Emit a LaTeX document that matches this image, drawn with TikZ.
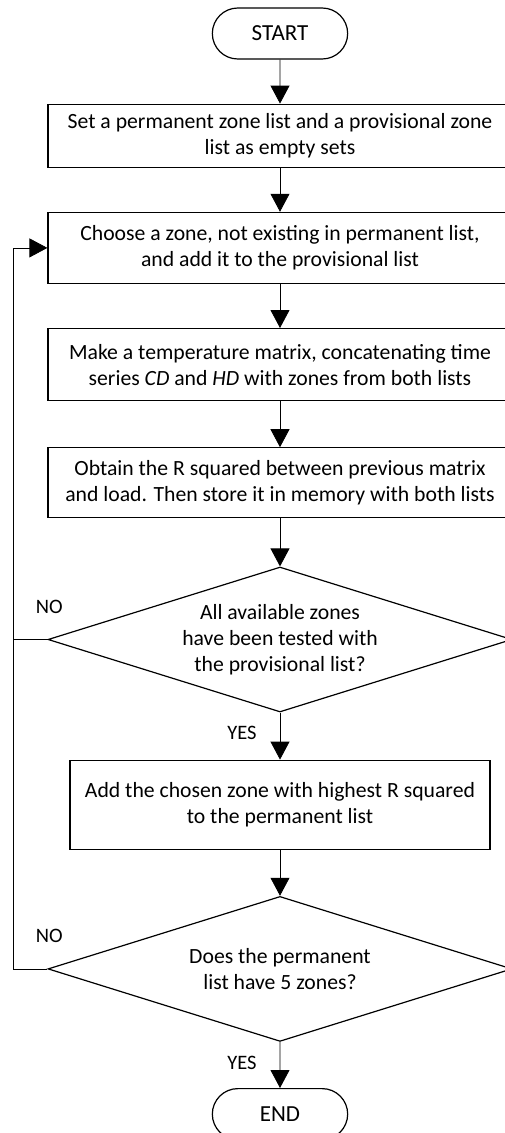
\documentclass[tikz,border=0pt]{standalone}
\usepackage{fontspec}
\setmainfont{Carlito}
\usepackage{tikz}
\usetikzlibrary{positioning,arrows.meta}
\usetikzlibrary{shapes.geometric,shapes.misc}
\tikzset{  term/.style={draw,line width=1.2pt,rounded rectangle,minimum width=142pt,minimum height=51pt,font=\fontsize{23}{27}\selectfont} }
\tikzset{  proc/.style={draw,line width=1.2pt,rectangle,minimum width=464pt,align=center,font=\fontsize{21.7}{26}\selectfont} }
\tikzset{  test/.style={draw,line width=1.2pt,diamond,aspect=3.2,inner sep=0pt,minimum width=464pt,minimum height=145pt,align=center,font=\fontsize{21.7}{26}\selectfont} }
\tikzset{  flow/.style={line width=0.8pt,-{Triangle[length=18pt,width=19pt]}} }
\tikzset{  answer/.style={font=\fontsize{20.5}{24}\selectfont} }

\begin{document}
\begin{tikzpicture}[x=1pt,y=1pt,node distance=45pt]
   \useasboundingbox (0,0) rectangle (505,-1133);
   \node[term] (start) at (280,-33.5) {START};
   \node[proc,minimum height=63pt,below=44pt of start] (init) {Set a permanent zone list and a provisional zone\\list as empty sets};
   \node[proc,minimum height=71pt,below=44pt of init] (choose) {Choose a zone, not existing in permanent list,\\and add it to the provisional list};
   \node[proc,minimum height=72pt,below=44pt of choose] (matrix) {Make a temperature matrix, concatenating time\\series \textit{CD} and \textit{HD} with zones from both lists};
   \node[proc,minimum height=70pt,below=46pt of matrix] (rsq) {Obtain the R squared between previous matrix\\and load. Then store it in memory with both lists};
   \node[test,below=48pt of rsq] (alltested) {All available zones\\have been tested with\\the provisional list?};
   \node[proc,minimum width=420pt,minimum height=89pt,below=47pt of alltested] (add) {Add the chosen zone with highest R squared\\to the permanent list};
   \node[test,below=46pt of add] (five) {Does the permanent\\list have 5 zones?};
   \node[term,below=46pt of five] (end) {END};
   \node[answer] (no1) at ([xshift=2pt,yshift=33pt]alltested.west) {NO};
   \node[answer] (yes1) at ([xshift=-38pt,yshift=-20pt]alltested.south) {YES};
   \node[answer] (no2) at ([xshift=2pt,yshift=33pt]five.west) {NO};
   \node[answer] (yes2) at ([xshift=-38pt,yshift=-21pt]five.south) {YES};
   \draw[flow] (start) -- (init);
   \draw[flow] (init) -- (choose);
   \draw[flow] (choose) -- (matrix);
   \draw[flow] (matrix) -- (rsq);
   \draw[flow] (rsq) -- (alltested);
   \draw[flow] (alltested) -- (add);
   \draw[flow] (add) -- (five);
   \draw[flow] (five) -- (end);
   % loop back
   \draw[line width=0.8pt] (alltested.west) -- ++(-34,0);
   \draw[flow] (five.west) -- ++(-34,0) |- (choose.west);
\end{tikzpicture}
\end{document}
